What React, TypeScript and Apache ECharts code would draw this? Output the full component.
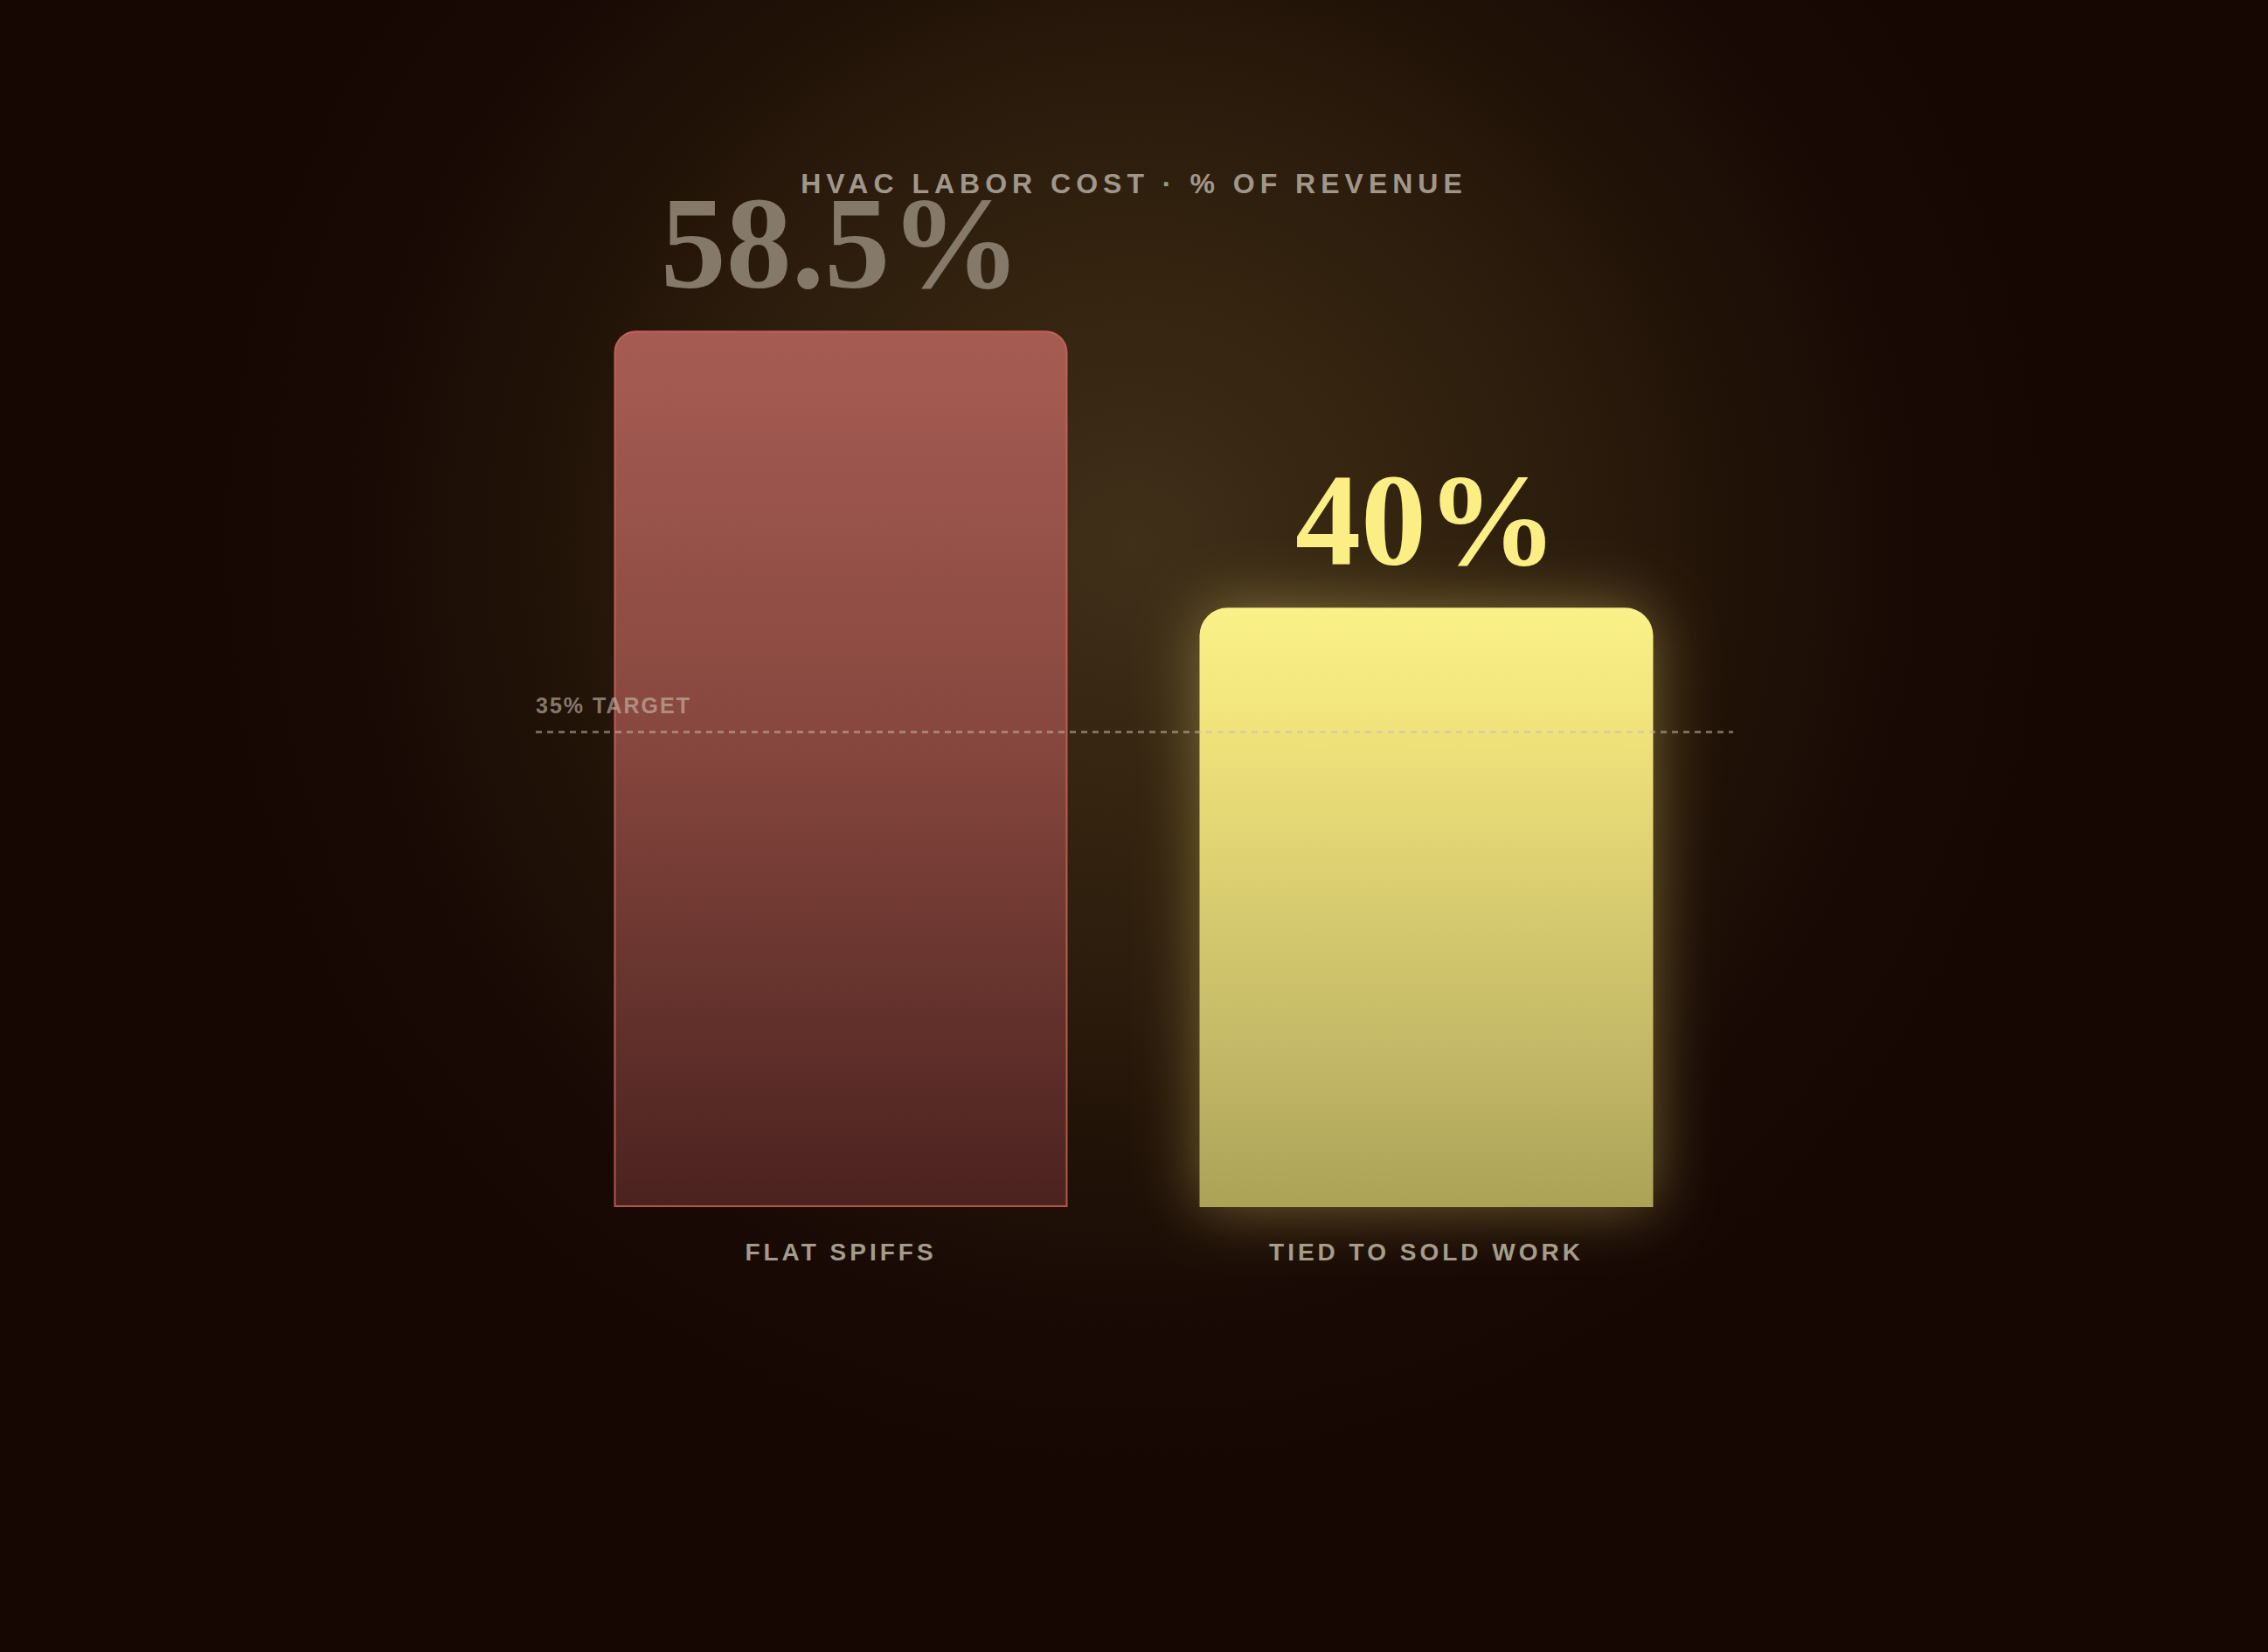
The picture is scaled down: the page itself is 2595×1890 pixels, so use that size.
import React, { useEffect, useRef } from "react";
import * as echarts from "echarts";

const chartTitle = "HVAC LABOR COST · % OF REVENUE";
const categories: string[] = ["FLAT SPIFFS", "TIED TO SOLD WORK"];
const values: number[] = [58.5, 40];
const targetValue = 35;
const targetLabel = "35% TARGET";

// the target line sits on its own hidden scale (and a wider grid) in the original
const VALUE_AXIS_MAX = 70;
const TARGET_AXIS_MAX = 77.2;

const SANS = "'Liberation Sans', Arial, sans-serif";
const SERIF = "'Liberation Serif', 'Times New Roman', serif";

const letterSpacing: Record<string, number> = {
  [chartTitle]: 6,
  [targetLabel]: 2,
  "FLAT SPIFFS": 4,
  "TIED TO SOLD WORK": 4,
};

const App: React.FC = () => {
  const chartRef = useRef<HTMLDivElement | null>(null);

  useEffect(() => {
    const chartDom = chartRef.current;
    if (!chartDom) return;
    const myChart = echarts.init(chartDom, undefined, { renderer: "svg" });

    const barStyles = [
      {
        color: new echarts.graphic.LinearGradient(0, 0, 0, 1, [
          { offset: 0, color: "#a65c53" },
          { offset: 0.45, color: "#88483f" },
          { offset: 1, color: "#4b221f" },
        ]),
        borderColor: "rgba(212, 102, 94, 0.8)",
        borderWidth: 2,
        borderRadius: [24, 24, 0, 0],
      },
      {
        color: new echarts.graphic.LinearGradient(0, 0, 0, 1, [
          { offset: 0, color: "#fbf189" },
          { offset: 0.2, color: "#f0e37b" },
          { offset: 0.78, color: "#c0b565" },
          { offset: 1, color: "#aba257" },
        ]),
        borderRadius: [32, 32, 0, 0],
        shadowBlur: 70,
        shadowColor: "rgba(240, 220, 110, 0.4)",
      },
    ];
    const labelColors = ["#857a6a", "#faee85"];

    const applySpacing = () => {
      chartDom.querySelectorAll("text").forEach((t) => {
        const ls = letterSpacing[(t.textContent || "").trim()];
        if (ls) t.setAttribute("letter-spacing", String(ls));
      });
    };

    const option = {
      animation: false,
      backgroundColor: "transparent",
      title: {
        text: chartTitle,
        left: "center",
        top: 194,
        padding: 0,
        textStyle: {
          fontFamily: SANS,
          fontSize: 32,
          fontWeight: "bold",
          color: "#a0978a",
        },
      },
      grid: [
        { left: 627, right: 628, top: 181, bottom: 509 },
        { left: 613, right: 612, top: 181, bottom: 509 },
      ],
      xAxis: [
        {
          type: "category",
          gridIndex: 0,
          data: categories,
          axisLine: { show: false },
          axisTick: { show: false },
          axisLabel: {
            margin: 37,
            fontFamily: SANS,
            fontSize: 28,
            fontWeight: "bold",
            color: "#a39b8b",
          },
        },
        { type: "category", gridIndex: 1, data: categories, show: false },
      ],
      yAxis: [
        { type: "value", gridIndex: 0, min: 0, max: VALUE_AXIS_MAX, show: false },
        { type: "value", gridIndex: 1, min: 0, max: TARGET_AXIS_MAX, show: false },
      ],
      series: [
        {
          type: "bar",
          barWidth: 519,
          xAxisIndex: 0,
          yAxisIndex: 0,
          data: values.map((v, i) => ({
            value: v,
            itemStyle: barStyles[i],
            label: { color: labelColors[i] },
          })),
          label: {
            show: true,
            position: "top",
            distance: 25,
            formatter: "{c}%",
            fontFamily: SERIF,
            fontWeight: "bold",
            fontSize: 150,
          },
        },
        {
          type: "line",
          xAxisIndex: 1,
          yAxisIndex: 1,
          data: [],
          symbol: "none",
          z: 5,
          markLine: {
            silent: true,
            symbol: "none",
            lineStyle: {
              color: "rgba(200, 190, 172, 0.5)",
              width: 3,
              type: [7, 6],
            },
            label: {
              show: true,
              position: "insideStartTop",
              distance: [0, 17],
              formatter: targetLabel,
              fontFamily: SANS,
              fontSize: 25,
              fontWeight: "bold",
              color: "rgba(200, 190, 175, 0.62)",
            },
            data: [{ yAxis: targetValue }],
          },
        },
      ],
    };

    myChart.on("finished", applySpacing);
    myChart.setOption(option);
    applySpacing();

    return () => {
      myChart.dispose();
    };
  }, []);

  return (
    <div
      style={{
        position: "fixed",
        left: 0,
        top: 0,
        width: "100vw",
        height: "100vh",
        background:
          "radial-gradient(circle 1050px at 50% 33%, #40301a 0%, #33230f 30%, #2a1a0c 52%, #231408 62%, #190a05 84%, #160703 100%)",
        backgroundColor: "#160703",
      }}
    >
      <div ref={chartRef} style={{ width: "100%", height: "100%" }} />
    </div>
  );
};

export default App;
